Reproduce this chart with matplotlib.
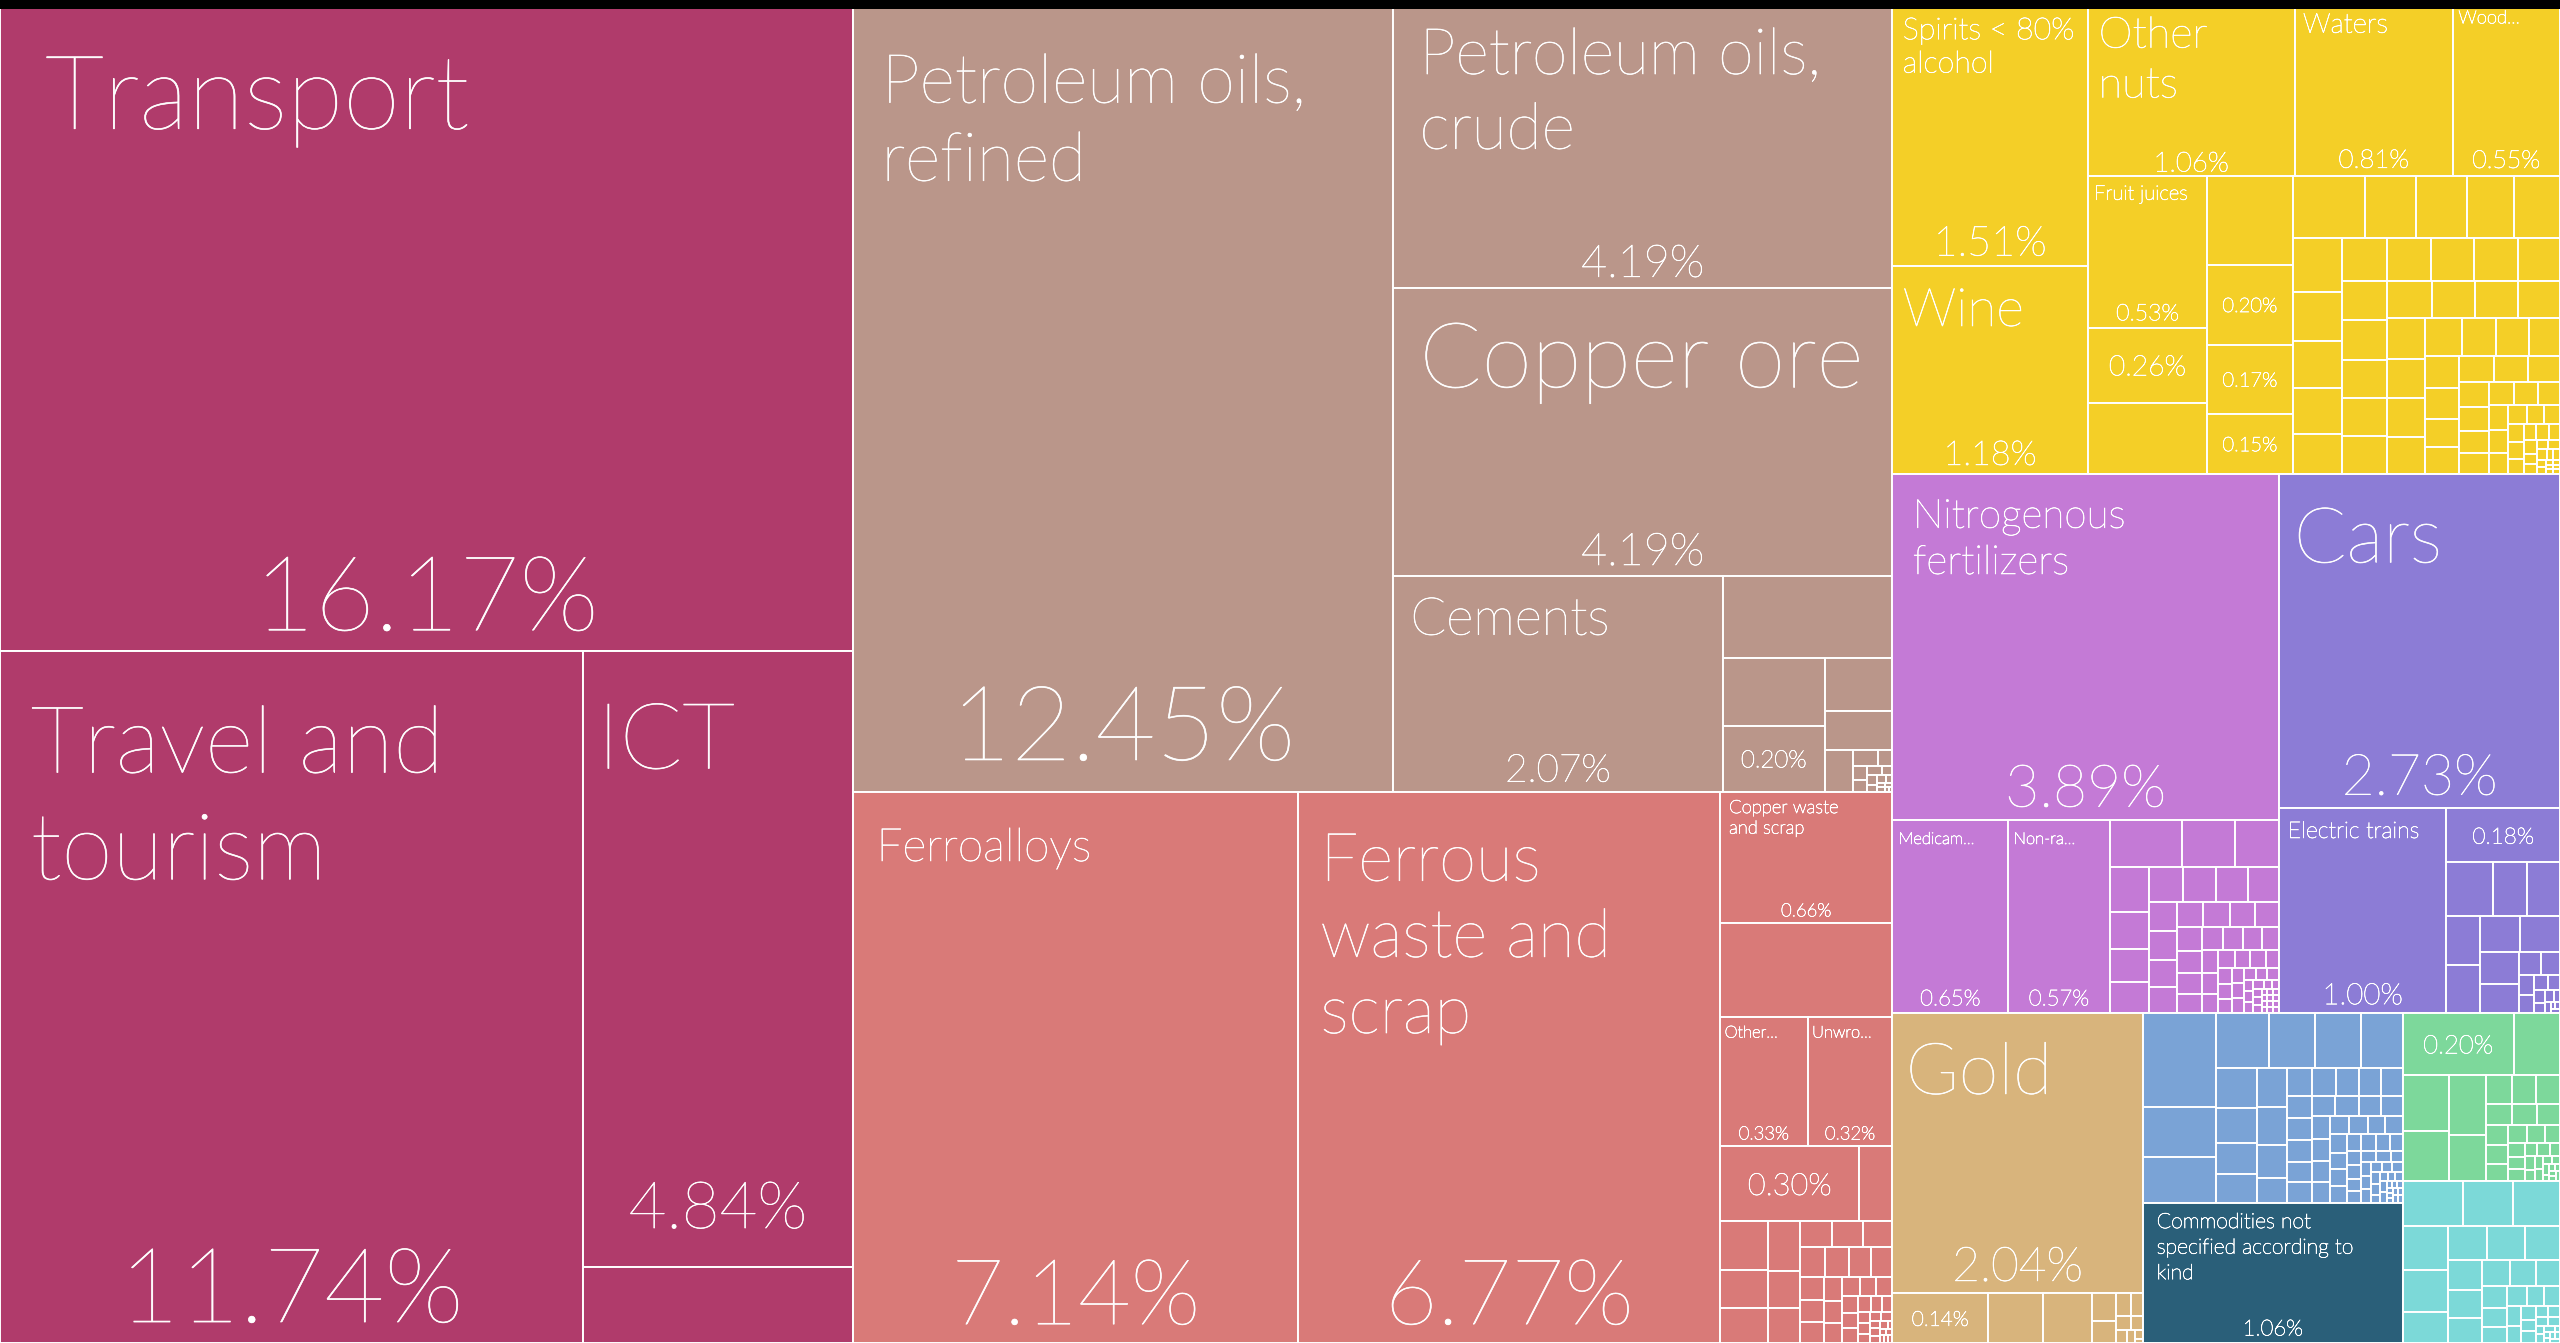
import matplotlib
matplotlib.use("Agg")
import matplotlib.pyplot as plt
from matplotlib.patches import Rectangle
import matplotlib.patheffects as pe

# ---------------- data: share of exports (%) ----------------
# label: None = no label, "" = percentage only, text = name + percentage
services_labels = ["Transport", "Travel and\ntourism", "ICT", None]
services_values = [16.17, 11.74, 4.84, 0.60]
services_small = []

mineral_labels = ["Petroleum oils,\nrefined", "Petroleum oils,\ncrude", "Copper ore", "Cements", None, None, ""]
mineral_values = [12.45, 4.19, 4.19, 2.07, 0.405, 0.20, 0.196]
mineral_small = [0.105, 0.077, 0.034, 0.011, 0.0065, 0.006, 0.005, 0.004, 0.003, 0.003,
                 0.002, 0.002, 0.0015, 0.001, 0.001, 0.0008, 0.0006, 0.0005]

metals_labels = ["Ferroalloys", "Ferrous\nwaste and\nscrap", "Copper waste\nand scrap", None,
                 "Other...", "Unwro...", ""]
metals_values = [7.14, 6.77, 0.66, 0.47, 0.33, 0.32, 0.30]
metals_small = [0.072, 0.070, 0.053, 0.049, 0.047, 0.035, 0.033, 0.025, 0.024, 0.023, 0.021,
                0.020, 0.019, 0.018, 0.016, 0.015, 0.014, 0.013, 0.012, 0.011, 0.010, 0.009,
                0.009, 0.008, 0.007, 0.007, 0.006, 0.005, 0.005, 0.004, 0.004, 0.003, 0.003,
                0.003, 0.002, 0.002, 0.002, 0.002, 0.001, 0.001, 0.001, 0.001, 0.001, 0.001]

food_labels = ["Spirits < 80%\nalcohol", "Wine", "Other\nnuts", "Waters", "Wood...", "Fruit juices",
               "", None, None, "", "", ""]
food_values = [1.513, 1.183, 1.06, 0.81, 0.55, 0.53, 0.26, 0.25, 0.22, 0.20, 0.17, 0.15]
food_small = [0.130, 0.092, 0.091, 0.084, 0.083, 0.078, 0.070, 0.068, 0.066, 0.055,
              0.058, 0.056, 0.055, 0.054, 0.053, 0.052, 0.052, 0.051, 0.050, 0.050, 0.049,
              0.048, 0.047, 0.046, 0.045, 0.044, 0.043, 0.042, 0.040, 0.038, 0.036, 0.034,
              0.032, 0.030, 0.028, 0.027, 0.026, 0.025, 0.024, 0.022, 0.020, 0.019, 0.018,
              0.017, 0.016, 0.015, 0.014, 0.013, 0.012, 0.011, 0.010, 0.009, 0.008, 0.008,
              0.007, 0.006, 0.006, 0.005, 0.005, 0.004, 0.004, 0.003, 0.003, 0.003, 0.002,
              0.002, 0.002, 0.002, 0.001, 0.001, 0.001, 0.001, 0.001, 0.001]

chem_labels = ["Nitrogenous\nfertilizers", "Medicam...", "Non-ra..."]
chem_values = [3.89, 0.65, 0.57]
chem_small = [0.099, 0.072, 0.060, 0.051, 0.043, 0.038, 0.035, 0.034, 0.033, 0.032, 0.031,
              0.024, 0.023, 0.022, 0.021, 0.020, 0.020, 0.019, 0.018, 0.017, 0.016, 0.015,
              0.014, 0.014, 0.013, 0.012, 0.011, 0.011, 0.010, 0.009, 0.009, 0.008, 0.008,
              0.007, 0.007, 0.006, 0.006, 0.005, 0.005, 0.005, 0.004, 0.004, 0.004, 0.003,
              0.003, 0.003, 0.003, 0.002, 0.002, 0.002, 0.002, 0.002, 0.001, 0.001, 0.001,
              0.001, 0.001, 0.001, 0.001, 0.001, 0.001, 0.001, 0.001, 0.001]

transport_labels = ["Cars", "Electric trains", ""]
transport_values = [2.73, 1.00, 0.18]
transport_small = [0.073, 0.053, 0.051, 0.049, 0.047, 0.042, 0.042, 0.036, 0.032, 0.015,
                   0.013, 0.009, 0.008, 0.006, 0.005, 0.004, 0.003, 0.003, 0.002, 0.002,
                   0.001, 0.001, 0.001]

precious_labels = ["Gold", ""]
precious_values = [2.04, 0.14]
precious_small = [0.080, 0.073, 0.020, 0.015, 0.010, 0.008, 0.006, 0.005, 0.004, 0.003,
                  0.002, 0.001]

machines_labels = []
machines_values = []
machines_small = [0.200, 0.106, 0.096, 0.086, 0.074, 0.074, 0.067, 0.048, 0.042, 0.036,
                  0.035, 0.034, 0.033, 0.029, 0.022, 0.020, 0.019, 0.018, 0.018, 0.017,
                  0.016, 0.016, 0.016, 0.015, 0.015, 0.014, 0.014, 0.013, 0.013, 0.012,
                  0.012, 0.011, 0.011, 0.010, 0.010, 0.009, 0.009, 0.009, 0.008, 0.008,
                  0.008, 0.007, 0.007, 0.007, 0.006, 0.006, 0.006, 0.005, 0.005, 0.005,
                  0.005, 0.004, 0.004, 0.004, 0.004, 0.003, 0.003, 0.003, 0.003, 0.003,
                  0.002, 0.002, 0.002, 0.002, 0.002, 0.002, 0.001, 0.001, 0.001, 0.001,
                  0.001, 0.001, 0.001, 0.001, 0.001, 0.001]

unspecified_labels = ["Commodities not\nspecified according to\nkind"]
unspecified_values = [1.06]
unspecified_small = []

vegetable_labels = [""]
vegetable_values = [0.20]
vegetable_small = [0.083, 0.075, 0.067, 0.065, 0.050, 0.022, 0.021, 0.020, 0.016, 0.015,
                   0.014, 0.013, 0.012, 0.011, 0.010, 0.009, 0.008, 0.007, 0.006, 0.006,
                   0.005, 0.005, 0.004, 0.004, 0.003, 0.003, 0.003, 0.002, 0.002, 0.002,
                   0.001, 0.001, 0.001, 0.001, 0.001, 0.001]

textiles_labels = []
textiles_values = []
textiles_small = [0.080, 0.066, 0.062, 0.058, 0.054, 0.041, 0.039, 0.037, 0.035, 0.030,
                  0.027, 0.025, 0.022, 0.020, 0.018, 0.016, 0.014, 0.012, 0.011, 0.010,
                  0.009, 0.008, 0.007, 0.006, 0.005, 0.005, 0.004, 0.004, 0.003, 0.003,
                  0.002, 0.002, 0.002, 0.001, 0.001, 0.001, 0.001, 0.001, 0.001]

group_names = ["Services", "Mineral Products", "Metals", "Foodstuffs", "Chemical Products",
               "Transportation", "Precious Metals", "Machines", "Not specified",
               "Vegetable Products", "Textiles"]

# ---------------- styles ----------------
group_colors = {
    "Services": "#B03B6B", "Mineral Products": "#BA968A", "Metals": "#D97A78",
    "Foodstuffs": "#F4CF27", "Chemical Products": "#C47AD6", "Transportation": "#8C7CD6",
    "Precious Metals": "#D8B47C", "Machines": "#7AA3D6", "Not specified": "#2A5F79",
    "Vegetable Products": "#7DD89B", "Textiles": "#7CD9D8",
}
# (name size, percentage size, extra percentage lift) in pixels
label_sizes = {
    "Transport": (112, 113, 0), "Travel and\ntourism": (101, 113, 0),
    "ICT": (100, 71, 24),
    "Petroleum oils,\nrefined": (74, 113, 11), "Petroleum oils,\ncrude": (70, 49, 0),
    "Copper ore": (99, 49, 0), "Cements": (57, 42, 0), "Ferroalloys": (50, 99, 0),
    "Ferrous\nwaste and\nscrap": (73, 99, 0), "Copper waste\nand scrap": (20, 20, 0),
    "Other...": (18, 20, 0), "Unwro...": (18, 20, 0),
    "Spirits < 80%\nalcohol": (33, 45, 0),
    "Wine": (58, 37, 0), "Other\nnuts": (47, 30, -4), "Waters": (30, 28, 0),
    "Wood...": (20, 27, 0), "Fruit juices": (22, 25, 0),
    "Nitrogenous\nfertilizers": (44, 64, 0), "Medicam...": (18, 24, 0),
    "Non-ra...": (18, 24, 0), "Cars": (84, 62, 0), "Electric trains": (25, 32, 0),
    "Gold": (78, 52, 0),
    "Commodities not\nspecified according to\nkind": (23, 24, 0),
}
FONT = "Lato"
FONT_SCALE = 0.92
CELL_PAD = 0.053  # label padding as a share of the cell size
W, H = 2560, 1343
DPI = 100


def squarify(values, x0, y0, x1, y1, ratio=1.0):
    """d3-hierarchy squarified tiling (values sorted descending)."""
    n = len(values)
    rects = [None] * n
    value = float(sum(values))
    i0 = i1 = 0
    while i0 < n:
        dx, dy = x1 - x0, y1 - y0
        sumv = values[i1]
        i1 += 1
        minv = maxv = sumv
        alpha = max(dy / dx, dx / dy) / (value * ratio)
        beta = sumv * sumv * alpha
        min_ratio = max(maxv / beta, beta / minv)
        while i1 < n:
            nv = values[i1]
            sumv += nv
            minv = min(minv, nv)
            maxv = max(maxv, nv)
            beta = sumv * sumv * alpha
            new_ratio = max(maxv / beta, beta / minv)
            if new_ratio > min_ratio:
                sumv -= nv
                break
            min_ratio = new_ratio
            i1 += 1
        if dx < dy:
            ny = y0 + dy * sumv / value if value else y1
            xx = x0
            for i in range(i0, i1):
                ww = (x1 - x0) * values[i] / sumv
                rects[i] = (xx, y0, xx + ww, ny)
                xx += ww
            y0 = ny
        else:
            nx = x0 + dx * sumv / value if value else x1
            yy = y0
            for i in range(i0, i1):
                hh = (y1 - y0) * values[i] / sumv
                rects[i] = (x0, yy, nx, yy + hh)
                yy += hh
            x0 = nx
        value -= sumv
        i0 = i1
    return rects


groups_data = {
    "Services": (services_labels, services_values, services_small),
    "Mineral Products": (mineral_labels, mineral_values, mineral_small),
    "Metals": (metals_labels, metals_values, metals_small),
    "Foodstuffs": (food_labels, food_values, food_small),
    "Chemical Products": (chem_labels, chem_values, chem_small),
    "Transportation": (transport_labels, transport_values, transport_small),
    "Precious Metals": (precious_labels, precious_values, precious_small),
    "Machines": (machines_labels, machines_values, machines_small),
    "Not specified": (unspecified_labels, unspecified_values, unspecified_small),
    "Vegetable Products": (vegetable_labels, vegetable_values, vegetable_small),
    "Textiles": (textiles_labels, textiles_values, textiles_small),
}

groups = []
for g in group_names:
    labs, vals, small = groups_data[g]
    items = list(zip(vals, labs)) + [(v, None) for v in small]
    items.sort(key=lambda t: -t[0])
    groups.append((g, items, sum(v for v, _ in items)))
groups.sort(key=lambda t: -t[2])

fig = plt.figure(figsize=(W / DPI, H / DPI), dpi=DPI)
fig.patch.set_facecolor("white")
ax = fig.add_axes([0, 0, 1, 1])
ax.set_xlim(0, W)
ax.set_ylim(H, 0)
ax.axis("off")


def text_style(px):
    lw = max(0.45, 0.55 - px / 200.0)
    return dict(fontsize=px * FONT_SCALE * 72.0 / DPI, color="white", family=FONT,
                fontweight="light", zorder=5,
                path_effects=[pe.withStroke(linewidth=lw, foreground="white")])


def put_labels(rect, label, value):
    if label is None:
        return
    x0, y0, x1, y1 = rect
    w, h = x1 - x0, y1 - y0
    pct = f"{value:.2f}%"
    if label == "":
        em = min(0.45 * h, w / 3.9)
        ax.text((x0 + x1) / 2, (y0 + y1) / 2, pct, ha="center", va="center_baseline",
                **text_style(em))
        return
    name_em, pct_em, pct_dy = label_sizes[label]
    ax.text(x0 + CELL_PAD * w, y0 + 0.05 * h + 0.23 * name_em - 3, label, ha="left",
            va="top", linespacing=1.35, **text_style(name_em))
    ax.text((x0 + x1) / 2, y1 - 0.15 * pct_em - 4 - pct_dy, pct, ha="center", va="baseline",
            **text_style(pct_em))


group_rects = squarify([t[2] for t in groups], 0, 0, W, H)
for (g, items, total), grect in zip(groups, group_rects):
    color = group_colors[g]
    rects = squarify([v for v, _ in items], *grect)
    for (v, lab), r in zip(items, rects):
        ax.add_patch(Rectangle((r[0], r[1]), r[2] - r[0], r[3] - r[1], facecolor=color,
                               edgecolor="white", linewidth=1.4, zorder=2))
        put_labels(r, lab, v)

# black strip along the top edge of the screenshot
ax.add_patch(Rectangle((0, 0), W, 9, facecolor="black", edgecolor="none", zorder=10))

fig.savefig("out.png", dpi=DPI, facecolor="white")
